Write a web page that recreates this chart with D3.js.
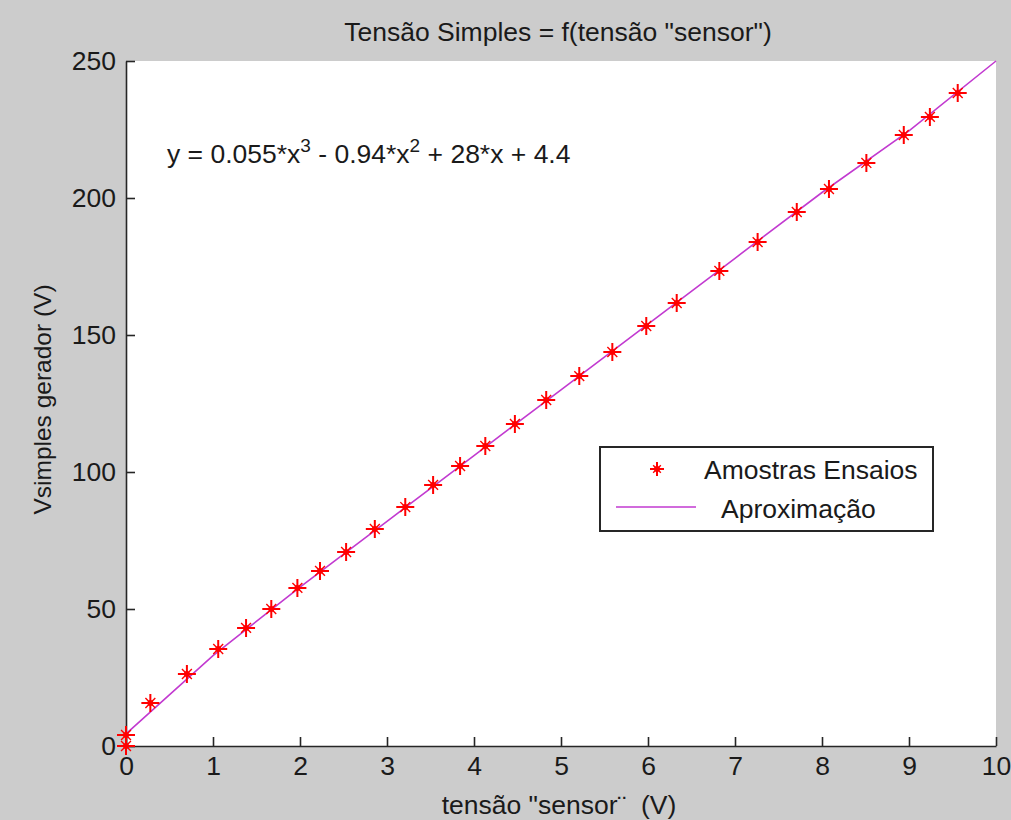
<!DOCTYPE html>
<html>
<head>
<meta charset="utf-8">
<script src="https://cdn.jsdelivr.net/npm/d3@7"></script>
<style>
  html, body { margin: 0; padding: 0; background: #cccccc; }
  svg text { font-family: "Liberation Sans", Arial, sans-serif; fill: #1a1a1a; }
</style>
</head>
<body>
<div class="canvas"></div>
<script>
// samples
const sensorV = [0, 0, 0.28, 0.70, 1.06, 1.38, 1.67, 1.97, 2.23, 2.53, 2.86, 3.21, 3.53, 3.84, 4.13,
    4.47, 4.83, 5.21, 5.59, 5.98, 6.33, 6.82, 7.26, 7.71, 8.08, 8.51, 8.94, 9.24, 9.56]
const vSimples = [0, 4, 15.7, 26.3, 35.4, 43.1, 50.0, 57.7, 63.9, 70.8, 79.2, 87.2, 95.3, 102.2, 109.5,
    117.5, 126.3, 135.0, 143.8, 153.3, 161.7, 173.4, 183.9, 194.9, 203.3, 212.8, 223.0, 229.6, 238.3]

// approximation curve, read at whole volts
const fitX = [0, 1, 2, 3, 4, 5, 6, 7, 8, 9, 10]
const fitY = [4.4, 33, 58, 82, 106, 130, 154, 178, 202, 224.5, 250]

const xTicks = [0, 1, 2, 3, 4, 5, 6, 7, 8, 9, 10]
const yTicks = [0, 50, 100, 150, 200, 250]

const width = 1011
const height = 820
const margin = { top: 61, right: 15, bottom: 74, left: 126 }
const graphWidth = width - margin.left - margin.right
const graphHeight = height - margin.top - margin.bottom

const lineColor = '#c23ad0'
const markColor = '#ff0000'
const fontSize = 26.5

const svg = d3.select('.canvas')
    .append('svg')
    .attr('width', width)
    .attr('height', height)

svg.append('rect')
    .attr('width', width)
    .attr('height', height)
    .attr('fill', '#cccccc')

const graph = svg.append('g')
    .attr('transform', `translate(${margin.left}, ${margin.top})`)

graph.append('rect')
    .attr('width', graphWidth)
    .attr('height', graphHeight)
    .attr('fill', '#fff')

// scales
const x = d3.scaleLinear().domain([0, 10]).range([0, graphWidth])
const y = d3.scaleLinear().domain([0, 250]).range([graphHeight, 0])

// axes
const xAxis = d3.axisBottom(x)
    .tickValues(xTicks)
    .tickSizeInner(-9)
    .tickSizeOuter(0)
    .tickPadding(10)

const yAxis = d3.axisLeft(y)
    .tickValues(yTicks)
    .tickSizeInner(-9)
    .tickSizeOuter(0)
    .tickPadding(10)

const xAxisGroup = graph.append('g')
    .attr('transform', `translate(0, ${graphHeight})`)
    .call(xAxis)

const yAxisGroup = graph.append('g')
    .call(yAxis)

graph.selectAll('.domain, .tick line')
    .attr('stroke', '#262626')
    .attr('stroke-width', 1.6)

graph.selectAll('.tick text')
    .attr('font-size', fontSize)
    .attr('font-family', '"Liberation Sans", Arial, sans-serif')
    .attr('fill', '#1a1a1a')

// approximation line
const line = d3.line()
    .x((d, i) => x(fitX[i]))
    .y(d => y(d))

graph.append('path')
    .attr('d', line(fitY))
    .attr('fill', 'none')
    .attr('stroke', lineColor)
    .attr('stroke-width', 1.6)

// asterisk markers
const star = (g, s) => {
    const d = s * 0.55
    g.append('path')
        .attr('d', `M${-s},0H${s}M0,${-s}V${s}`)
        .attr('stroke', markColor)
        .attr('stroke-width', 2)
    g.append('path')
        .attr('d', `M${-d},${-d}L${d},${d}M${-d},${d}L${d},${-d}`)
        .attr('stroke', markColor)
        .attr('stroke-width', 1.4)
    g.append('circle')
        .attr('r', 3)
        .attr('fill', markColor)
}

graph.selectAll('.mark')
    .data(sensorV).enter()
    .append('g')
    .attr('class', 'mark')
    .attr('transform', (d, i) => `translate(${x(d)}, ${y(vSimples[i])})`)
    .each(function () { star(d3.select(this), 9) })

// title and labels
svg.append('text')
    .attr('x', margin.left + graphWidth / 2 - 3)
    .attr('y', 41)
    .attr('text-anchor', 'middle')
    .attr('font-size', fontSize)
    .text('Tensão Simples = f(tensão "sensor")')

svg.append('text')
    .attr('x', margin.left + graphWidth / 2 - 2)
    .attr('y', 814)
    .attr('text-anchor', 'middle')
    .attr('font-size', fontSize)
    .attr('xml:space', 'preserve')
    .style('white-space', 'pre')
    .text('tensão "sensor¨  (V)')

svg.append('text')
    .attr('transform', `translate(51, ${margin.top + graphHeight / 2 - 4}) rotate(-90)`)
    .attr('text-anchor', 'middle')
    .attr('font-size', 24.5)
    .text('Vsimples gerador (V)')

// equation
const eq = svg.append('text')
    .attr('x', 167)
    .attr('y', 163)
    .attr('font-size', fontSize)
eq.append('tspan').text('y = 0.055*x')
eq.append('tspan').attr('font-size', 19).attr('dy', -11).text('3')
eq.append('tspan').attr('dy', 11).text(' - 0.94*x')
eq.append('tspan').attr('font-size', 19).attr('dy', -11).text('2')
eq.append('tspan').attr('dy', 11).text(' + 28*x + 4.4')

// legend
const legend = svg.append('g')
    .attr('transform', 'translate(600, 447)')

legend.append('rect')
    .attr('width', 333)
    .attr('height', 84)
    .attr('fill', '#fff')
    .attr('stroke', '#262626')
    .attr('stroke-width', 2)

star(legend.append('g').attr('transform', 'translate(57, 22)'), 7)

legend.append('text')
    .attr('x', 104)
    .attr('y', 32)
    .attr('font-size', fontSize)
    .text('Amostras Ensaios')

legend.append('line')
    .attr('x1', 16)
    .attr('x2', 96)
    .attr('y1', 60)
    .attr('y2', 60)
    .attr('stroke', lineColor)
    .attr('stroke-width', 1.6)

legend.append('text')
    .attr('x', 121)
    .attr('y', 71)
    .attr('font-size', fontSize)
    .text('Aproximação')
</script>
</body>
</html>
